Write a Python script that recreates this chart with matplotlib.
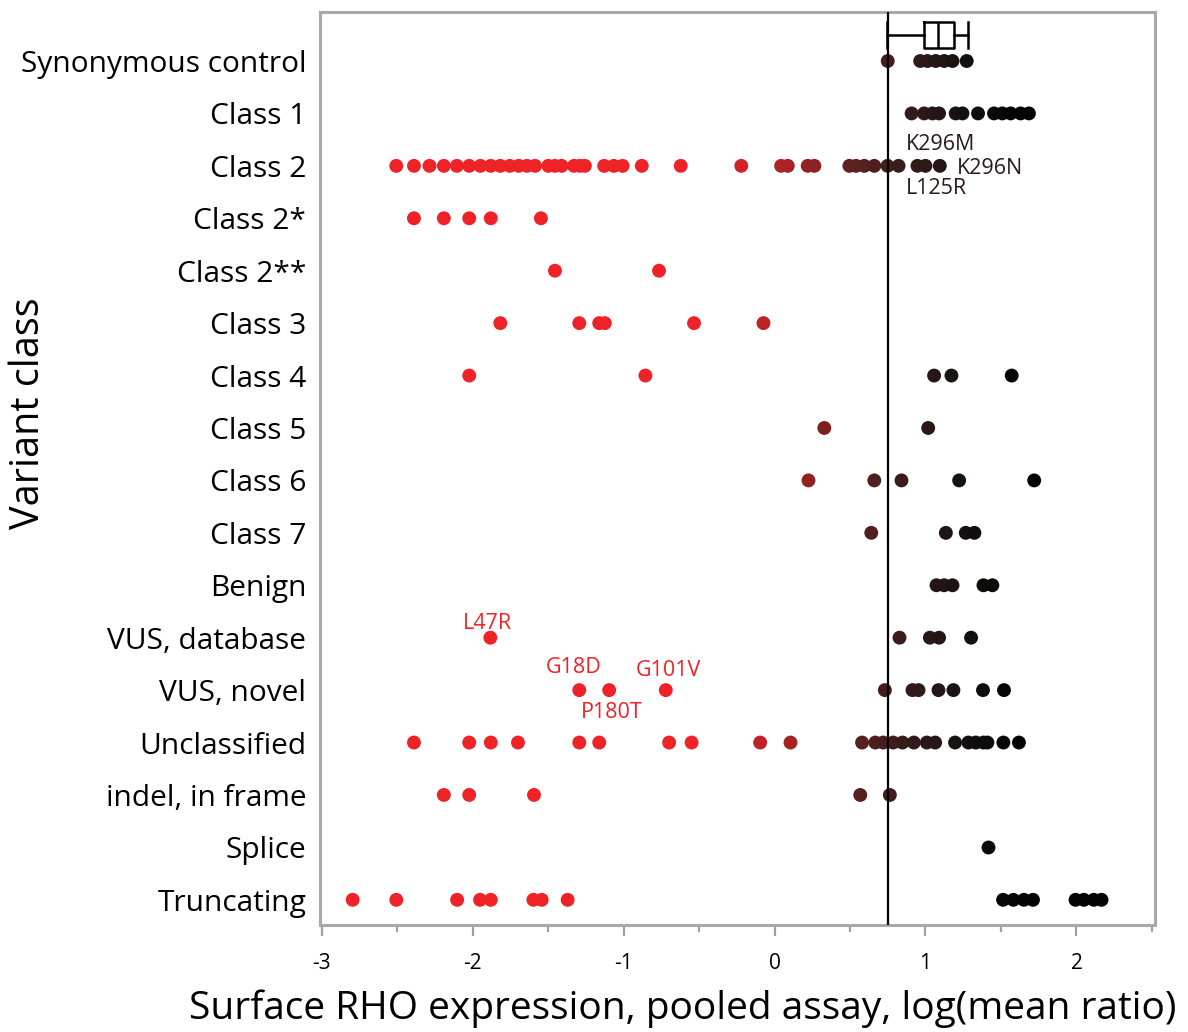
import numpy as np
import matplotlib
matplotlib.use("Agg")
import matplotlib.pyplot as plt
from matplotlib.colors import LinearSegmentedColormap, Normalize

plt.rcParams['font.family'] = ['Open Sans', 'DejaVu Sans']

# Variant classes, top to bottom
categories = ["Synonymous control", "Class 1", "Class 2", "Class 2*", "Class 2**",
              "Class 3", "Class 4", "Class 5", "Class 6", "Class 7", "Benign",
              "VUS, database", "VUS, novel", "Unclassified", "indel, in frame",
              "Splice", "Truncating"]

# log(mean ratio) values
synonymous = [0.75, 0.965, 1.013, 1.068, 1.124, 1.179, 1.273]
class1 = [0.908, 0.991, 1.046, 1.09, 1.2, 1.245, 1.348, 1.454, 1.509, 1.564, 1.63, 1.685]
class2 = [-2.505, -2.388, -2.285, -2.19, -2.104, -2.022, -1.948, -1.879, -1.816, -1.753,
          -1.694, -1.639, -1.586, -1.498, -1.454, -1.41, -1.328, -1.289, -1.256, -1.128,
          -1.064, -1.006, -0.879, -0.621, -0.22, 0.044, 0.088, 0.22, 0.264, 0.496, 0.54,
          0.595, 0.661, 0.749, 0.822, 0.947, 1.0, 1.095]
class2s = [-2.388, -2.19, -2.022, -1.879, -1.547]
class2ss = [-1.454, -0.765]
class3 = [-1.816, -1.293, -1.161, -1.124, -0.533, -0.073]
class4 = [-2.022, -0.855, 1.057, 1.172, 1.571]
class5 = [0.33, 1.018]
class6 = [0.225, 0.661, 0.841, 1.223, 1.72]
class7 = [0.641, 1.135, 1.267, 1.324]
benign = [1.073, 1.124, 1.179, 1.384, 1.443]
vus_db = [-1.882, 0.828, 1.029, 1.09, 1.302]
vus_novel = [-1.293, -1.095, -0.72, 0.731, 0.914, 0.954, 1.086, 1.185, 1.381, 1.52]
unclassified = [-2.388, -2.022, -1.879, -1.699, -1.293, -1.161, -0.698, -0.549, -0.095,
                0.106, 0.58, 0.668, 0.72, 0.786, 0.848, 0.923, 1.009, 1.064, 1.196,
                1.284, 1.333, 1.384, 1.41, 1.516, 1.619]
indel = [-2.19, -2.022, -1.593, 0.568, 0.764]
splice = [1.417]
truncating = [-2.794, -2.505, -2.102, -1.95, -1.879, -1.597, -1.542, -1.37,
              1.514, 1.582, 1.652, 1.712, 1.994, 2.049, 2.115, 2.166]

series = [synonymous, class1, class2, class2s, class2ss, class3, class4, class5,
          class6, class7, benign, vus_db, vus_novel, unclassified, indel, splice,
          truncating]

# box summary of synonymous control
box_stats = dict(whislo=0.745, q1=0.99, med=1.08, q3=1.19, whishi=1.284)
ref_line = 0.75

x_ticks = [-3, -2, -1, 0, 1, 2]
x_ticklabels = ["-3", "-2", "-1", "0", "1", "2"]

# annotated variants: (label, x, row, colour, alignment)
annotations = [("K296M", 0.87, 1.6, "#2b1a1a", "left"),
               ("K296N", 1.21, 2.05, "#2b1a1a", "left"),
               ("L125R", 0.87, 2.43, "#2b1a1a", "left"),
               ("L47R", -1.9, 10.73, "#ee2227", "center"),
               ("G18D", -1.33, 11.57, "#ee2227", "center"),
               ("G101V", -0.7, 11.62, "#ee2227", "center"),
               ("P180T", -1.08, 12.43, "#ee2227", "center")]

cmap = LinearSegmentedColormap.from_list(
    "redblack",
    [(0.0, "#ee2227"), (0.15, "#c42328"), (0.27, "#a82224"), (0.38, "#7f2020"),
     (0.5, "#5a2020"), (0.62, "#3b1c1c"), (0.72, "#2a1818"), (0.82, "#171212"),
     (1.0, "#040404")])
norm = Normalize(vmin=-0.45, vmax=1.6)

fig = plt.figure(figsize=(11.88, 10.32), dpi=100)
ax = fig.add_axes([0.2694, 0.1037, 0.7028, 0.8847])

for i, vals in enumerate(series):
    vals = np.array(vals)
    ax.scatter(vals, np.full(len(vals), i), c=vals, cmap=cmap, norm=norm,
               s=100, linewidths=0, zorder=3)

ax.bxp([box_stats], positions=[-0.5], vert=False, widths=0.5, capwidths=0.5,
       showfliers=False, manage_ticks=False,
       boxprops=dict(color="black", linewidth=1.8),
       medianprops=dict(color="black", linewidth=1.8),
       whiskerprops=dict(color="black", linewidth=1.8),
       capprops=dict(color="black", linewidth=1.8))

ax.axvline(ref_line, color="black", linewidth=1.6, zorder=4)

for lab, x, y, col, ha in annotations:
    ax.text(x, y, lab, color=col, fontsize=15.5, ha=ha, va="center")

ax.set_xlim(-3.01, 2.52)
ax.set_ylim(16.48, -0.935)
ax.set_yticks(range(len(categories)))
ax.set_yticklabels(categories, fontsize=21.5)
ax.tick_params(axis="y", length=0, pad=10)
ax.set_xticks(x_ticks)
ax.set_xticklabels(x_ticklabels)
ax.set_xticks([-2.5, -1.5, -0.5, 0.5, 1.5, 2.5], minor=True)
ax.tick_params(axis="x", which="both", direction="out", color="#a0a0a0",
               width=1.6, labelsize=15, pad=12)
ax.tick_params(axis="x", which="major", length=8)
ax.tick_params(axis="x", which="minor", length=5)

for sp in ax.spines.values():
    sp.set_color("#a8a8a8")
    sp.set_linewidth(2.2)

ax.set_xlabel("Surface RHO expression, pooled assay, log(mean ratio)", fontsize=28)
ax.xaxis.set_label_coords(0.435, -0.071)
ax.set_ylabel("Variant class", fontsize=28.5)
ax.yaxis.set_label_coords(-0.325, 0.561)

fig.savefig("out.png", dpi=100)
